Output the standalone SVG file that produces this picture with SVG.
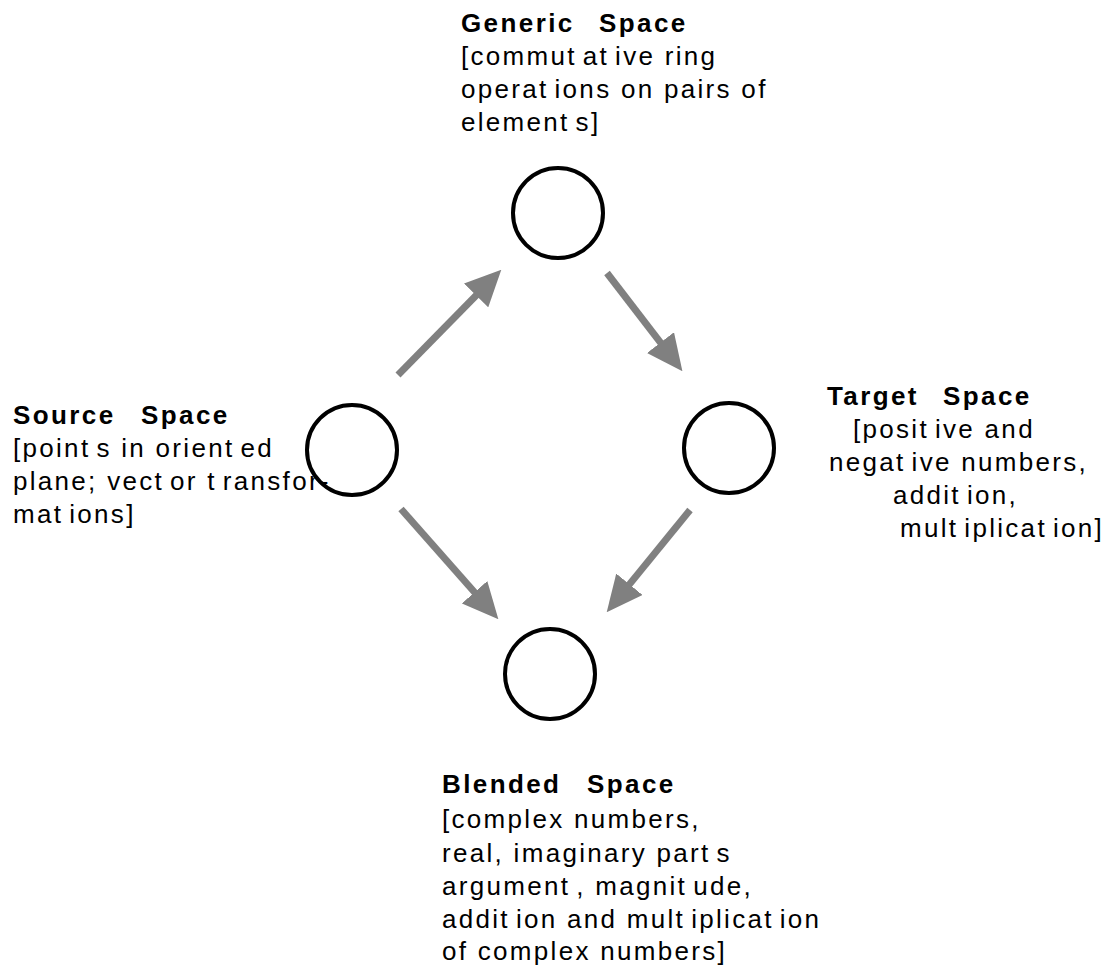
<svg xmlns="http://www.w3.org/2000/svg" width="1114" height="967" viewBox="0 0 1114 967">
<style>
  .bg { fill: #ffffff; }
  .node { fill: none; stroke: #000000; stroke-width: 4; }
  .title { font-family: "Liberation Sans", Arial, sans-serif; font-size: 26px; font-weight: bold; letter-spacing: 2.4px; fill: #000000; }
  .desc { font-family: "Liberation Sans", Arial, sans-serif; font-size: 26px; letter-spacing: 2.3px; fill: #000000; }
  .conn { stroke: #808080; stroke-width: 7; fill: none; marker-end: url(#head); }
</style>
<defs>
  <marker id="head" markerUnits="userSpaceOnUse" viewBox="0 -17 36 34" markerWidth="36" markerHeight="34" refX="1" refY="0" orient="auto">
    <path d="M0,-17 L36,0 L0,17 z" fill="#808080"/>
  </marker>
</defs>
<rect class="bg" x="0" y="0" width="1114" height="967"/>

<g id="connectors">
  <line class="conn" x1="398" y1="375" x2="476.8" y2="294.7"/>
  <line class="conn" x1="607" y1="273" x2="661.1" y2="343.4"/>
  <line class="conn" x1="690" y1="510" x2="628.8" y2="585.1"/>
  <line class="conn" x1="401" y1="509" x2="475.2" y2="593"/>
</g>

<g id="generic">
  <circle class="node" cx="558" cy="213" r="45"/>
  <text class="title" y="32"><tspan x="461">Generic</tspan><tspan x="599">Space</tspan></text>
  <text class="desc" x="461" y="65">[commut<tspan dx="6">at</tspan><tspan dx="6">ive ring</tspan></text>
  <text class="desc" x="461" y="98">operat<tspan dx="6">ions on pairs of</tspan></text>
  <text class="desc" x="461" y="131">element<tspan dx="6">s]</tspan></text>
</g>

<g id="source">
  <circle class="node" cx="352" cy="450" r="45"/>
  <text class="title" y="424"><tspan x="13">Source</tspan><tspan x="141">Space</tspan></text>
  <text class="desc" x="13" y="457">[point<tspan dx="6">s in orient</tspan><tspan dx="6">ed</tspan></text>
  <text class="desc" x="13" y="490">plane; vect<tspan dx="6">or t</tspan><tspan dx="6">ransfor-</tspan></text>
  <text class="desc" x="13" y="523">mat<tspan dx="6">ions]</tspan></text>
</g>

<g id="target">
  <circle class="node" cx="729" cy="448" r="45"/>
  <text class="title" y="405"><tspan x="827">Target</tspan><tspan x="943">Space</tspan></text>
  <text class="desc" x="853" y="438">[posit<tspan dx="6">ive and</tspan></text>
  <text class="desc" x="829" y="471">negat<tspan dx="6">ive numbers,</tspan></text>
  <text class="desc" x="893" y="504">addit<tspan dx="6">ion,</tspan></text>
  <text class="desc" x="900" y="537">mult<tspan dx="6">iplicat</tspan><tspan dx="6">ion]</tspan></text>
</g>

<g id="blended">
  <circle class="node" cx="550" cy="674" r="45"/>
  <text class="title" y="793"><tspan x="442">Blended</tspan><tspan x="587">Space</tspan></text>
  <text class="desc" x="442" y="828">[complex numbers,</text>
  <text class="desc" x="442" y="862">real, imaginary part<tspan dx="6">s</tspan></text>
  <text class="desc" x="442" y="895">argument<tspan dx="6">, magnit</tspan><tspan dx="6">ude,</tspan></text>
  <text class="desc" x="442" y="928">addit<tspan dx="6">ion and mult</tspan><tspan dx="6">iplicat</tspan><tspan dx="6">ion</tspan></text>
  <text class="desc" x="442" y="960">of complex numbers]</text>
</g>
</svg>
